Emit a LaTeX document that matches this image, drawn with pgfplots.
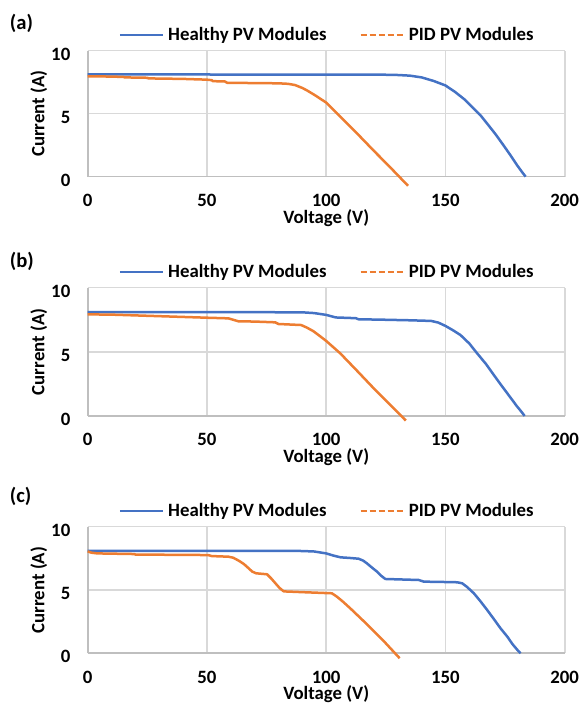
\documentclass[border=0pt]{standalone}
\usepackage{pgfplots}
\pgfplotsset{compat=1.18}
\usepackage{fontspec}
\setmainfont{Carlito}
\definecolor{hblue}{HTML}{4472C4}
\definecolor{porange}{HTML}{ED7D31}
\definecolor{gridc}{HTML}{D9D9D9}
\definecolor{axc}{HTML}{BFBFBF}
\newcommand{\tf}{\fontsize{9.4}{11}\selectfont\bfseries}
\newcommand{\pf}{\fontsize{10.3}{12}\selectfont\bfseries}

\pgfplotsset{
  panel/.style={
    scale only axis, width=238.5pt, height=63.3pt,
    xmin=0, xmax=200, ymin=0, ymax=10,
    xtick={0,50,100,150,200}, ytick={0,5,10},
    axis lines=left, axis line style={-, draw=axc, line width=0.8pt},
    grid=major, major grid style={draw=gridc, line width=0.8pt},
    tick style={draw=none}, major tick length=0pt,
    clip=false,
    /pgf/number format/assume math mode=true,
    tick label style={font=\tf},
    xticklabel style={anchor=base, inner sep=0pt, yshift=-15pt},
    yticklabel style={anchor=base east, inner sep=0pt, xshift=-8.5pt, yshift=-4.7pt},
    xlabel={Voltage (V)}, ylabel={Current (A)},
    label style={font=\tf},
    xlabel style={at={(axis description cs:0.5,0)}, anchor=base, inner sep=0pt, yshift=-23.3pt},
    ylabel style={at={(axis description cs:0,0.5)}, anchor=center, inner sep=0pt, rotate=0, yshift=24.5pt},
    legend columns=2,
    legend style={at={(axis description cs:0.5,1)}, anchor=south, yshift=3.7pt, draw=none, fill=none,
      inner sep=0pt, outer sep=0pt, font=\tf, column sep=2pt, nodes={inner sep=0pt},
      /tikz/every even column/.append style={column sep=16.5pt}},
    legend cell align=left,
    legend image code/.code={\draw[#1] (0pt,0pt) -- (21.5pt,0pt);},
  },
  hcurve/.style={hblue, line width=1.25pt, line join=round},
  pcurve/.style={porange, line width=1.25pt, line join=round},
}

\begin{document}
\begin{tikzpicture}
\useasboundingbox (0,0) rectangle (290pt,352pt);

% ---------------- (a)
\node[anchor=base west, inner sep=0pt, font=\pf] at (4.75pt,337.35pt) {(a)};
\begin{axis}[panel, at={(43.85pt,263.65pt)}, anchor=south west, height=63pt]
\addplot[hcurve] coordinates {
(0,8.12) (50,8.11) (100,8.1) (125,8.09) (130,8.07) (135,8.02) (140,7.88) (145,7.6)
(150,7.24) (154,6.73) (158,6.13) (162,5.38) (165,4.8) (168,4.09) (171,3.37) (174,2.58)
(177,1.77) (180,0.92) (182,0.4) (183.6,0)};
\addplot[pcurve, legend image post style={dash pattern=on 3pt off 1.5pt}] coordinates {
(0,7.97) (8,7.95) (15,7.92) (15.5,7.88) (25,7.85) (25.5,7.8) (40,7.76) (50,7.7) (52,7.66)
(52.5,7.58) (57.5,7.56) (58.5,7.45) (70,7.43) (80,7.41) (84,7.37) (87,7.27) (90,7.04)
(92,6.84) (95,6.5) (100,5.88) (106,4.74) (113,3.42) (120,2.05) (127,0.71) (134.3,-0.72)};
\legend{Healthy PV Modules, PID PV Modules}
\end{axis}

% ---------------- (b)
\node[anchor=base west, inner sep=0pt, font=\pf] at (4.75pt,218.35pt) {(b)};
\begin{axis}[panel, at={(43.85pt,144pt)}, anchor=south west, height=64.15pt]
\addplot[hcurve] coordinates {
(0,8.1) (50,8.1) (90,8.08) (95,8.02) (100,7.88) (102,7.78) (104,7.68) (110,7.64)
(112.5,7.62) (113.5,7.54) (125,7.5) (135,7.46) (144,7.41) (147,7.28) (150,7.02)
(153,6.7) (156.3,6.31) (160,5.65) (163.3,4.88) (167,4.05) (170.3,3.19) (173,2.5)
(176,1.75) (178,1.25) (180,0.75) (182,0.3) (183.2,0)};
\addplot[pcurve, legend image post style={dash pattern=on 3pt off 1.5pt}] coordinates {
(0,7.92) (10,7.9) (20,7.84) (30,7.78) (40,7.72) (50,7.66) (59,7.61) (61,7.5) (63.2,7.38)
(70,7.36) (78.6,7.3) (80,7.17) (89.5,7.09) (92,6.88) (94.7,6.6) (97,6.28) (100,5.85)
(105.9,4.88) (112.9,3.53) (119.9,2.16) (126.9,0.86) (133.4,-0.36)};
\legend{Healthy PV Modules, PID PV Modules}
\end{axis}

% ---------------- (c)
\node[anchor=base west, inner sep=0pt, font=\pf] at (4.75pt,100.85pt) {(c)};
\begin{axis}[panel, at={(43.85pt,25.35pt)}, anchor=south west, height=63.3pt]
\addplot[hcurve] coordinates {
(0,8.1) (50,8.1) (90,8.08) (95,8.04) (100,7.89) (103,7.72) (106,7.58) (110,7.53)
(113.6,7.47) (115.5,7.32) (117.1,7.1) (119,6.8) (121.3,6.45) (123,6.13) (124.8,5.87)
(130,5.84) (138.8,5.79) (140.9,5.66) (150,5.63) (154.9,5.61) (157,5.53) (159,5.25)
(161.9,4.74) (164.5,4.15) (167.5,3.42) (170.5,2.65) (173.1,1.97) (176,1.3) (178,0.75)
(180,0.3) (181.5,0)};
\addplot[pcurve, legend image post style={dash pattern=on 3pt off 1.5pt}] coordinates {
(0,8.05) (1.5,7.95) (4,7.89) (19.5,7.84) (20,7.8) (50.5,7.76) (52,7.68) (59,7.63)
(61,7.55) (63.3,7.32) (65.5,7.05) (67.5,6.71) (69,6.45) (70.6,6.32) (75.2,6.24) (77,5.9)
(78.7,5.53) (80.5,5.15) (82.2,4.89) (91.3,4.82) (102.4,4.74) (104.5,4.47) (107,4.08)
(110.1,3.55) (117.1,2.29) (124.1,0.97) (130.8,-0.39)};
\legend{Healthy PV Modules, PID PV Modules}
\end{axis}
\end{tikzpicture}
\end{document}
